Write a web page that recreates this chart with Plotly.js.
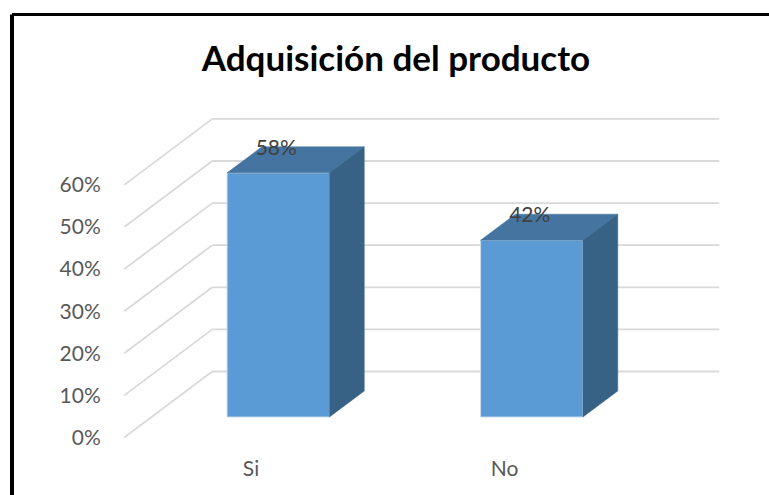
<!DOCTYPE html>
<html>
<head>
<meta charset="utf-8">
<script src="https://cdn.plot.ly/plotly-3.0.1.min.js"></script>
<style>html,body{margin:0;padding:0;background:#fff}#chart{width:769px;height:495px}</style>
</head>
<body>
<div id="chart"></div>
<script>
// Chart content
const chartTitle = 'Adquisición del producto';
const categories = ['Si', 'No'];
const percentages = [58, 42];
const axisTicks = [0, 10, 20, 30, 40, 50, 60];

// Oblique projection: a step of one depth unit moves a point right and up.
const depthX = 88 / 253.5;   // in category widths
const depthY = 66 / 4.21;    // in percentage points
const barWidth = 0.404;
const barFront = 0.31;       // depth of a bar's front face
const barBack = 0.705;       // depth of a bar's back face
const slotStart = -0.5;
const slotEnd = categories.length - 0.5;

const px = (x, d) => x + d * depthX;
const py = (v, d) => v + d * depthY;

const faceFront = '#5b9bd5';
const faceTop = '#44749f';
const faceSide = '#376286';
const faceEdge = '#c9dcef';
const gridColor = '#d9d9d9';

// Floor and wall grid lines, drawn under the bars
const gridShapes = [];
axisTicks.forEach(t => {
  const line = (x0, y0, x1, y1) => ({
    type: 'line', layer: 'below', xref: 'x', yref: 'y',
    x0, y0, x1, y1, line: {color: gridColor, width: 1.8}
  });
  gridShapes.push(line(px(slotStart, 0), py(t, 0), px(slotStart, 1), py(t, 1)));
  gridShapes.push(line(px(slotStart, 1), py(t, 1), px(slotEnd, 1), py(t, 1)));
});

// Black frame: top and left edges only, running off the page on the right and bottom
const frameLeft = -96 / 617;
const frameTop = 1 + 85.5 / 348;
const frameShapes = [
  {type: 'line', xref: 'paper', yref: 'paper', x0: frameLeft, x1: 1.2, y0: frameTop, y1: frameTop, line: {color: '#000', width: 3}},
  {type: 'line', xref: 'paper', yref: 'paper', x0: frameLeft, x1: frameLeft, y0: -0.2, y1: frameTop, line: {color: '#000', width: 4}}
];

const positions = categories.map((_, i) => i);

const frontTrace = {
  type: 'bar',
  x: positions.map(i => px(i, barFront)),
  y: percentages,
  base: percentages.map(() => py(0, barFront)),
  width: barWidth,
  marker: {color: faceFront, line: {color: faceEdge, width: 1}},
  hoverinfo: 'skip'
};

const topTrace = i => {
  const l = i - barWidth / 2, r = i + barWidth / 2, v = percentages[i];
  return {
    type: 'scatter', mode: 'lines', fill: 'toself', fillcolor: faceTop,
    x: [px(l, barFront), px(r, barFront), px(r, barBack), px(l, barBack), px(l, barFront)],
    y: [py(v, barFront), py(v, barFront), py(v, barBack), py(v, barBack), py(v, barFront)],
    line: {color: faceTop, width: 0.5}, hoverinfo: 'skip'
  };
};

const sideTrace = i => {
  const r = i + barWidth / 2, v = percentages[i];
  return {
    type: 'scatter', mode: 'lines', fill: 'toself', fillcolor: faceSide,
    x: [px(r, barFront), px(r, barBack), px(r, barBack), px(r, barFront), px(r, barFront)],
    y: [py(0, barFront), py(0, barBack), py(v, barBack), py(v, barFront), py(0, barFront)],
    line: {color: faceSide, width: 0.5}, hoverinfo: 'skip'
  };
};

const labelTrace = {
  type: 'scatter', mode: 'text',
  x: positions.map(i => px(i, barFront) - 0.008),
  y: percentages.map(v => py(v, barBack) - 0.6),
  text: percentages.map(v => v + '%'),
  textposition: 'middle center',
  textfont: {family: 'Lato, sans-serif', size: 21, color: '#404040'},
  hoverinfo: 'skip'
};

const traces = [frontTrace]
  .concat(positions.map(topTrace))
  .concat(positions.map(sideTrace))
  .concat([labelTrace]);

const layout = {
  width: 769, height: 495,
  margin: {l: 108, r: 44, t: 100, b: 47},
  paper_bgcolor: '#fff', plot_bgcolor: 'rgba(0,0,0,0)',
  showlegend: false,
  title: {
    text: '<b>' + chartTitle + '</b>',
    x: (396 - 108) / 617, xanchor: 'center', xref: 'paper',
    y: 1 - 59 / 495, yanchor: 'middle', yref: 'container',
    font: {family: 'Lato, sans-serif', size: 35, color: '#000'}
  },
  xaxis: {
    range: [(108 - 251) / 253.5, (725 - 251) / 253.5],
    tickmode: 'array', tickvals: positions, ticktext: categories,
    showgrid: false, zeroline: false, showline: false, ticks: 'outside', ticklen: 2, tickcolor: 'rgba(0,0,0,0)',
    tickfont: {family: 'Lato, sans-serif', size: 21, color: '#595959'}
  },
  yaxis: {
    range: [(437.5 - 448) / 4.21, (437.5 - 100) / 4.21],
    tickmode: 'array', tickvals: axisTicks, ticktext: axisTicks.map(t => t + '%'),
    showgrid: false, zeroline: false, showline: false, ticks: 'outside', ticklen: 2, tickcolor: 'rgba(0,0,0,0)',
    tickfont: {family: 'Lato, sans-serif', size: 21, color: '#595959'}
  },
  shapes: gridShapes.concat(frameShapes)
};

Plotly.newPlot('chart', traces, layout, {displayModeBar: false, staticPlot: true});
</script>
</body>
</html>
